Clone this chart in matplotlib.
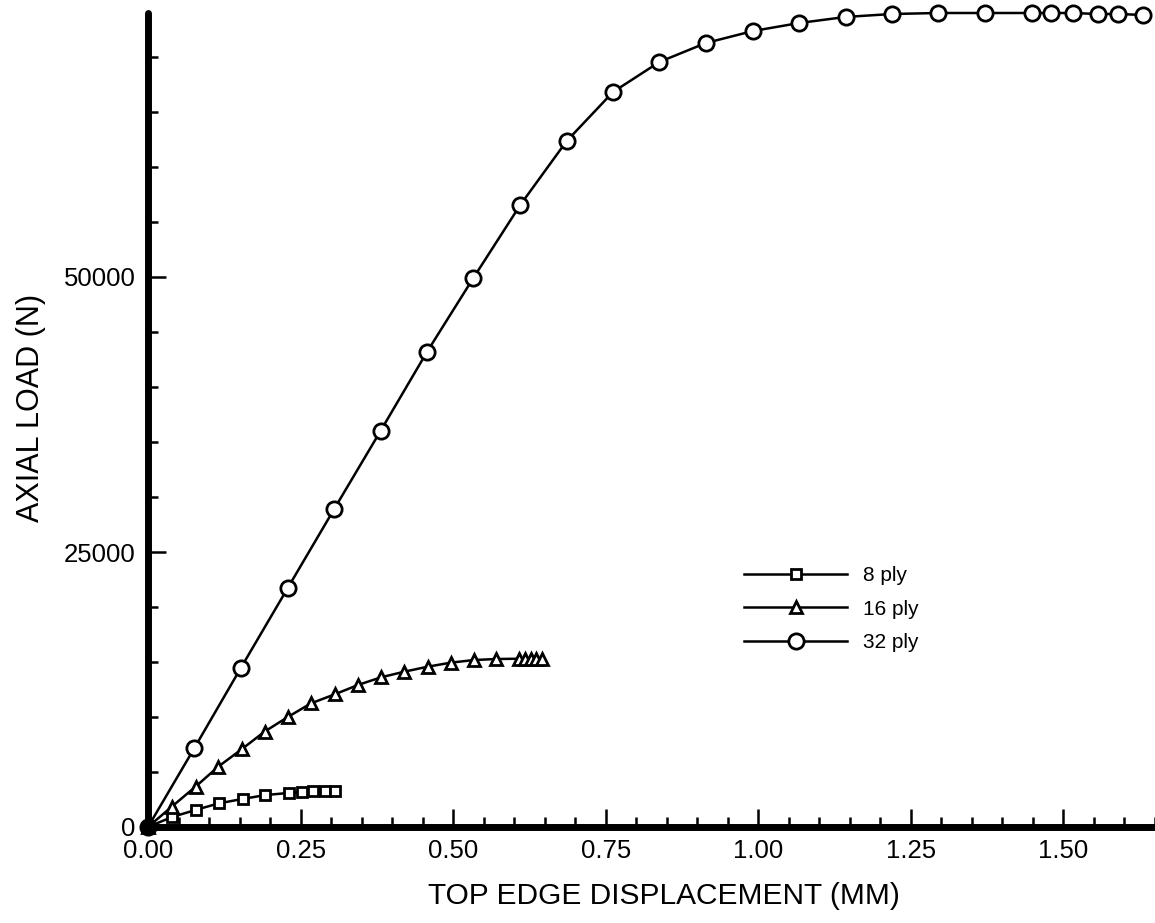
import matplotlib.pyplot as plt
from matplotlib.ticker import MultipleLocator

plt.rcParams['font.family'] = ['Liberation Sans', 'DejaVu Sans']

# top edge displacement (mm) and axial load (N)
disp_8 = [0.0, 0.039, 0.078, 0.116, 0.155, 0.192, 0.231, 0.252, 0.271, 0.290, 0.307]
load_8 = [0, 900, 1550, 2150, 2550, 2900, 3100, 3180, 3230, 3250, 3250]

disp_16 = [0.0, 0.039, 0.078, 0.115, 0.154, 0.191, 0.230, 0.267, 0.306, 0.344,
           0.382, 0.420, 0.458, 0.496, 0.534, 0.570, 0.608, 0.618, 0.627, 0.636, 0.645]
load_16 = [0, 1850, 3670, 5480, 7090, 8670, 10030, 11240, 12060, 12910,
           13610, 14120, 14570, 14940, 15180, 15270, 15300, 15300, 15300, 15300, 15300]

disp_32 = [0.0, 0.076, 0.152, 0.229, 0.305, 0.381, 0.457, 0.533, 0.610, 0.686,
           0.762, 0.838, 0.914, 0.991, 1.067, 1.143, 1.219, 1.295, 1.372, 1.448,
           1.479, 1.515, 1.556, 1.590, 1.630]
load_32 = [0, 7180, 14450, 21730, 28900, 36000, 43180, 49900, 56550, 62360,
           66820, 69550, 71270, 72360, 73090, 73640, 73910, 74000, 74000, 74000,
           74000, 74000, 73910, 73910, 73820]

x_ticks = [0.0, 0.25, 0.50, 0.75, 1.00, 1.25, 1.50]
y_ticks = [0, 25000, 50000]

fig = plt.figure(figsize=(11.55, 9.23), dpi=100)
ax = fig.add_axes([148 / 1155, 96 / 923, 1 - 148 / 1155, (827 - 13) / 923])

style = dict(color='black', lw=1.8, mfc='white', mec='black', mew=2.0, clip_on=False)
ax.plot(disp_8, load_8, marker='s', ms=7, label='8 ply', **style)
ax.plot(disp_16, load_16, marker='^', ms=9, label='16 ply', **style)
ax.plot(disp_32, load_32, marker='o', ms=11, label='32 ply', **style)
ax.plot([0], [0], 'o', ms=10, color='black', clip_on=False, zorder=6)

ax.set_xlim(0, 1.65)
ax.set_ylim(0, 74000)
ax.set_xticks(x_ticks)
ax.set_xticklabels([f'{v:.2f}' for v in x_ticks])
ax.set_yticks(y_ticks)
ax.set_yticklabels([str(v) for v in y_ticks])
ax.xaxis.set_minor_locator(MultipleLocator(0.05))
ax.yaxis.set_minor_locator(MultipleLocator(5000))

for side in ['top', 'right']:
    ax.spines[side].set_visible(False)
for side in ['left', 'bottom']:
    ax.spines[side].set_linewidth(5)
    ax.spines[side].set_capstyle('round')

ax.tick_params(which='major', direction='in', length=13, width=1.8, labelsize=18.5, pad=9)
ax.tick_params(which='minor', direction='in', length=7, width=1.8)

ax.set_xlabel('TOP EDGE DISPLACEMENT (MM)', fontsize=21.5)
ax.set_ylabel('AXIAL LOAD (N)', fontsize=22)
ax.xaxis.set_label_coords(0.512, -0.067)
ax.yaxis.set_label_coords(-0.101, 0.515)

ax.legend(loc='upper left', bbox_to_anchor=(744 / 1155, (923 - 566) / 923),
          bbox_transform=fig.transFigure, frameon=False, fontsize=15,
          handlelength=4.95, handletextpad=0.77, labelspacing=0.7, borderpad=0,
          borderaxespad=0)

fig.savefig('out.png', dpi=100)
